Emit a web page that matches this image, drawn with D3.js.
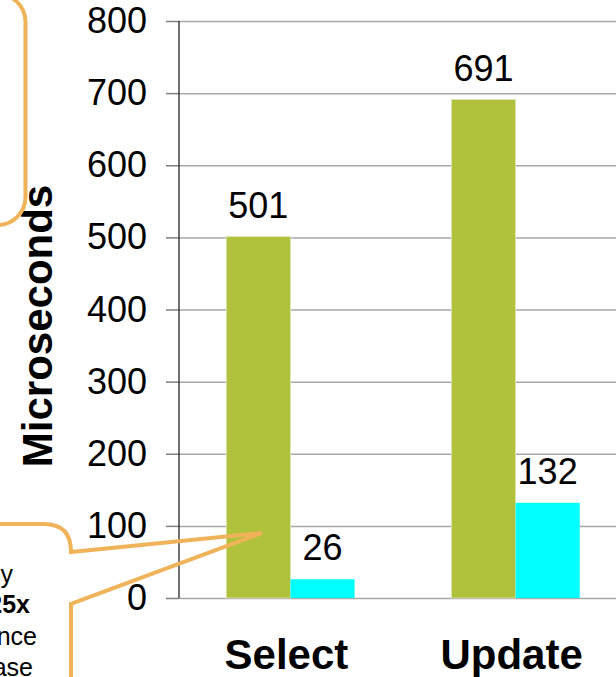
<!DOCTYPE html>
<html>
<head>
<meta charset="utf-8">
<script src="https://cdn.jsdelivr.net/npm/d3@7"></script>
<style>
    body { margin: 0; background: #ffffff; }
    svg { display: block; font-family: "Liberation Sans", Arial, sans-serif; }
    .axis text { fill: #000; }
</style>
</head>
<body>
<div id="chart"></div>
<script>

// chart data
const categories = ["Select", "Update"];
const seriesNames = ["Before", "After"];
const beforeValues = [501, 691];
const afterValues = [26, 132];
const yTicks = [0, 100, 200, 300, 400, 500, 600, 700, 800];
const yTitle = "Microseconds";

// callout text (only the right end shows in the crop)
const calloutLines = ["by", "25x", "nce", "ase"];

const colors = { Before: "#b0c13b", After: "#00ffff" };
const callColor = "#f0b35a";

let margin = { top: 21, right: -11, bottom: 79, left: 179 };
let width = 616 - margin.left - margin.right;
let height = 677 - margin.top - margin.bottom;

let svg = d3.select("#chart").append("svg")
    .attr("width", 616)
    .attr("height", 677)
    .style("overflow", "hidden");

// title, almost all of it is above the crop
svg.append("text")
    .attr("x", 338)
    .attr("y", 0.3)
    .attr("text-anchor", "middle")
    .style("font-size", "44px")
    .style("font-weight", "bold")
    .style("fill", "#b5c64a")
    .text("Execution Times");

let g = svg.append("g")
    .attr("transform", "translate(" + margin.left + "," + margin.top + ")");

// scales
let x0 = d3.scaleBand()
    .domain(categories)
    .range([0, width])
    .paddingInner(0.43)
    .paddingOuter(0.21);

let x1 = d3.scaleBand()
    .domain(seriesNames)
    .range([0, x0.bandwidth()]);

let y = d3.scaleLinear()
    .domain([0, 800])
    .range([height, 0]);

// gridlines
g.append("g")
    .attr("class", "grid")
    .call(d3.axisLeft(y).tickValues(yTicks).tickSize(-width).tickFormat(""))
    .call(s => s.select(".domain").remove())
    .call(s => s.selectAll("line").attr("stroke", "#a8a8a8").attr("stroke-width", 1.5));

// y axis
g.append("g")
    .attr("class", "axis y-axis")
    .call(d3.axisLeft(y).tickValues(yTicks).tickSize(13).tickPadding(19))
    .call(s => s.select(".domain").remove())
    .call(s => s.selectAll("line").attr("stroke", "#7f7f7f").attr("stroke-width", 1.5))
    .call(s => s.selectAll("text").style("font-size", "36px"));

g.append("line")
    .attr("x1", 0).attr("x2", 0)
    .attr("y1", 0).attr("y2", height)
    .attr("stroke", "#222")
    .attr("stroke-width", 1.3);

// x axis labels
g.append("g")
    .attr("class", "axis x-axis")
    .attr("transform", "translate(-4," + height + ")")
    .call(d3.axisBottom(x0).tickSize(0).tickPadding(41))
    .call(s => s.select(".domain").remove())
    .call(s => s.selectAll("text").style("font-size", "42px").style("font-weight", "bold"));

// y axis title
svg.append("text")
    .attr("transform", "rotate(-90)")
    .attr("x", -326)
    .attr("y", 52)
    .attr("text-anchor", "middle")
    .style("font-size", "42px")
    .style("font-weight", "bold")
    .text(yTitle);

// bars
let rows = categories.map((c, i) => ({
    category: c,
    values: [
        { key: "Before", value: beforeValues[i] },
        { key: "After", value: afterValues[i] }
    ]
}));

let groups = g.selectAll(".group")
    .data(rows)
    .enter()
    .append("g")
    .attr("class", "group")
    .attr("transform", d => "translate(" + x0(d.category) + ",0)");

groups.selectAll("rect")
    .data(d => d.values)
    .enter()
    .append("rect")
    .attr("x", d => x1(d.key))
    .attr("y", d => y(d.value))
    .attr("width", x1.bandwidth())
    .attr("height", d => height - y(d.value))
    .attr("fill", d => colors[d.key])
    .attr("stroke", d => d.key === "Before" ? "#dde5b4" : "none")
    .attr("stroke-width", 0.8);

groups.selectAll(".value-label")
    .data(d => d.values)
    .enter()
    .append("text")
    .attr("class", "value-label")
    .attr("x", d => x1(d.key) + x1.bandwidth() / 2)
    .attr("y", d => y(d.value) - 19)
    .attr("text-anchor", "middle")
    .style("font-size", "36px")
    .text(d => d.value);

// callout boxes
svg.append("rect")
    .attr("x", -300)
    .attr("y", -6)
    .attr("width", 325.5)
    .attr("height", 231)
    .attr("rx", 28)
    .attr("fill", "none")
    .attr("stroke", callColor)
    .attr("stroke-width", 4);

svg.append("path")
    .attr("d", "M-10,524 H44 Q71,524 71,552 L262,533 L71,604 V700")
    .attr("fill", "none")
    .attr("stroke", callColor)
    .attr("stroke-width", 4)
    .attr("stroke-linejoin", "miter");

let calloutEnds = [13, 30, 37, 33];
let calloutBase = [583, 613, 645, 676];
svg.selectAll(".callout-text")
    .data(calloutLines)
    .enter()
    .append("text")
    .attr("class", "callout-text")
    .attr("x", (d, i) => calloutEnds[i])
    .attr("y", (d, i) => calloutBase[i])
    .attr("text-anchor", "end")
    .style("font-size", "25px")
    .style("font-weight", (d, i) => i === 1 ? "bold" : "normal")
    .text(d => d);

</script>
</body>
</html>
